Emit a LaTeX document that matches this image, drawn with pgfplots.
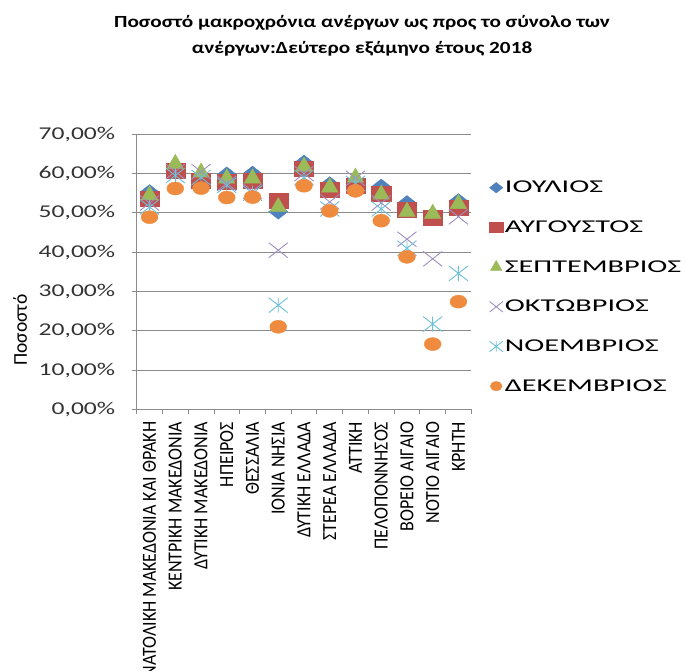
\documentclass[border=0pt]{standalone}
\usepackage{fontspec}
\setmainfont{Carlito}[FakeStretch=1.25]
\newfontfamily\cfn{Carlito}[FakeStretch=0.9]
\newfontfamily\cfr{Carlito}
\newfontfamily\cfl{Carlito}[FakeStretch=1.68]
\newfontfamily\cft{Carlito}[FakeStretch=1.42]
\usepackage{pgfplots}
\usepackage{pgfplotstable}
\pgfplotsset{compat=1.18}
\definecolor{cJ}{HTML}{4F81BD}
\definecolor{cA}{HTML}{C0504D}
\definecolor{cS}{HTML}{9BBB59}
\definecolor{cO}{HTML}{A08EC0}
\definecolor{cN}{HTML}{6CC0D8}
\definecolor{cD}{HTML}{EE8B3F}
\definecolor{gridc}{HTML}{8C8C8C}
\pgfdeclareplotmark{xstar}{%
  \pgfpathmoveto{\pgfqpoint{-\pgfplotmarksize}{-\pgfplotmarksize}}%
  \pgfpathlineto{\pgfqpoint{\pgfplotmarksize}{\pgfplotmarksize}}%
  \pgfpathmoveto{\pgfqpoint{-\pgfplotmarksize}{\pgfplotmarksize}}%
  \pgfpathlineto{\pgfqpoint{\pgfplotmarksize}{-\pgfplotmarksize}}%
  \pgfpathmoveto{\pgfqpoint{0pt}{-\pgfplotmarksize}}%
  \pgfpathlineto{\pgfqpoint{0pt}{\pgfplotmarksize}}%
  \pgfusepathqstroke}
\pgfplotstableread{
x J A S O N D
0 55.3 53.5 54.5 52.5 51.5 48.9
1 60.8 60.7 62.5 60.5 59.5 56.2
2 58.5 58.3 60.3 60.5 59.0 56.3
3 59.8 57.9 58.8 57.5 57.0 53.9
4 60.0 58.1 58.8 55.5 55.0 54.0
5 50.3 53.2 51.5 40.5 26.5 21.0
6 62.8 61.3 61.8 60.0 59.0 56.9
7 57.3 55.8 56.5 52.8 51.0 50.5
8 57.5 56.9 59.0 58.8 57.5 55.6
9 56.7 55.0 54.7 52.5 51.0 48.0
10 52.5 50.9 50.3 43.3 41.0 38.8
11 49.5 48.8 49.8 38.3 21.7 16.6
12 53.0 51.3 52.3 49.0 34.6 27.4
}\datatable
\begin{document}
\begin{tikzpicture}
\useasboundingbox (0pt,0pt) rectangle (686pt,670pt);
\node[align=center, font=\fontsize{17}{25.5}\selectfont\bfseries] at (362pt,634pt)
  {Ποσοστό μακροχρόνια ανέργων ως προς το σύνολο των\\ανέργων:Δεύτερο εξάμηνο έτους 2018};
\node[rotate=90, font=\cfr\fontsize{19.5}{19.5}\selectfont] at (20pt,340pt) {Ποσοστό};
\begin{axis}[
  at={(136.7pt,260.7pt)}, anchor=south west,
  scale only axis, width=334.6pt, height=275pt,
  xmin=-0.5, xmax=12.5, ymin=0, ymax=70,
  axis lines*=left,
  axis line style={gridc, line width=0.8pt},
  ymajorgrids, grid style={gridc, line width=0.8pt},
  ytick={0,10,...,70},
  yticklabels={{0,00\%},{10,00\%},{20,00\%},{30,00\%},{40,00\%},{50,00\%},{60,00\%},{70,00\%}},
  yticklabel style={font=\cft\fontsize{18}{18}\selectfont, text=black!80, xshift=-13pt},
  xtick={0,...,12},
  xticklabels={ΑΝΑΤΟΛΙΚΗ ΜΑΚΕΔΟΝΙΑ ΚΑΙ ΘΡΑΚΗ, ΚΕΝΤΡΙΚΗ ΜΑΚΕΔΟΝΙΑ, ΔΥΤΙΚΗ ΜΑΚΕΔΟΝΙΑ, ΗΠΕΙΡΟΣ, ΘΕΣΣΑΛΙΑ, ΙΟΝΙΑ ΝΗΣΙΑ, ΔΥΤΙΚΗ ΕΛΛΑΔΑ, ΣΤΕΡΕΑ ΕΛΛΑΔΑ, ΑΤΤΙΚΗ, ΠΕΛΟΠΟΝΝΗΣΟΣ, ΒΟΡΕΙΟ ΑΙΓΑΙΟ, ΝΟΤΙΟ ΑΙΓΑΙΟ, ΚΡΗΤΗ},
  xticklabel style={rotate=90, anchor=east, font=\cfn\fontsize{20}{20}\selectfont, xshift=-4pt},
  major x tick style={draw=none},
  minor xtick={-0.5,0.5,...,12.5},
  minor tick length=5pt,
  ytick style={gridc, line width=0.8pt}, minor x tick style={gridc, line width=0.8pt},
  major tick length=5pt,
  tick align=outside,
  legend style={draw=none, fill=none, at={(1.045,0.845)}, anchor=north west,
    font=\cfl\fontsize{18}{18}\selectfont, row sep=22.5pt, legend cell align=left},
  legend image code/.code={\draw[#1, every mark/.append style={scale=0.7}] plot coordinates {(0.2cm,0cm)};},
]
\addplot[only marks, mark=square*, mark size=5.3pt, mark options={xscale=1.27, rotate=45, draw=cJ, fill=cJ}] table[x=x,y=J] {\datatable};
\addlegendentry{ΙΟΥΛΙΟΣ}
\addplot[only marks, mark=square*, mark size=7.5pt, mark options={xscale=1.27, draw=cA, fill=cA}] table[x=x,y=A] {\datatable};
\addlegendentry{ΑΥΓΟΥΣΤΟΣ}
\addplot[only marks, mark=triangle*, mark size=9.5pt, mark options={draw=cS, fill=cS}] table[x=x,y=S] {\datatable};
\addlegendentry{ΣΕΠΤΕΜΒΡΙΟΣ}
\addplot[only marks, mark=x, mark size=10.6pt, mark options={xscale=1.27, draw=cO, line width=0.9pt}] table[x=x,y=O] {\datatable};
\addlegendentry{ΟΚΤΩΒΡΙΟΣ}
\addplot[only marks, mark=xstar, mark size=7.5pt, mark options={xscale=1.27, draw=cN, line width=0.9pt}] table[x=x,y=N] {\datatable};
\addlegendentry{ΝΟΕΜΒΡΙΟΣ}
\addplot[only marks, mark=*, mark size=6.5pt, mark options={xscale=1.3, draw=cD, fill=cD}] table[x=x,y=D] {\datatable};
\addlegendentry{ΔΕΚΕΜΒΡΙΟΣ}
\end{axis}
\end{tikzpicture}
\end{document}
